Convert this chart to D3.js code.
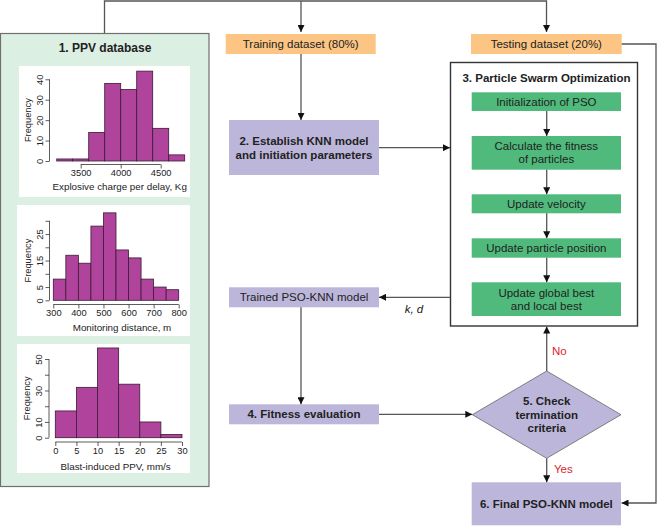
<!DOCTYPE html>
<html><head><meta charset="utf-8">
<script src="https://cdn.jsdelivr.net/npm/d3@7"></script>
<style>html,body{margin:0;padding:0;background:#fff}svg{display:block;font-family:"Liberation Sans",Arial,sans-serif}</style>
</head><body><svg id="c" width="657" height="526"></svg>
<script>
// ---- data ----
const chargeEdges = [3200,3400,3600,3800,4000,4200,4400,4600,4800];
const chargeCounts = [1,1,14,38,35,44,16,3];
const chargeXTicks = [3500,4000,4500];
const chargeYTicks = [0,10,20,30,40];
const chargeYLabels = [0,10,20,30,40];

const distEdges = [300,350,400,450,500,550,600,650,700,750,800];
const distCounts = [8,17,14,28,33,19,16,8,5,4];
const distXTicks = [300,400,500,600,700,800];
const distYTicks = [0,5,10,15,20,25,30];
const distYLabels = [0,5,15,25];

const ppvEdges = [0,5,10,15,20,25,30];
const ppvCounts = [17,32,57,34,10,2];
const ppvXTicks = [0,5,10,15,20,25,30];
const ppvYTicks = [0,10,20,30,40,50];
const ppvYLabels = [0,10,30,50];

const histTitles = ["Explosive charge per delay, Kg","Monitoring distance, m","Blast-induced PPV, mm/s"];

const svg = d3.select("#c");
const defs = svg.append("defs");
defs.append("marker").attr("id","ah").attr("viewBox","0 0 10 10").attr("refX",10).attr("refY",5)
  .attr("markerWidth",7).attr("markerHeight",7).attr("markerUnits","userSpaceOnUse").attr("orient","auto")
  .append("path").attr("d","M0,0L10,5L0,10z").attr("fill","#111");

const lineCol = "#555";
// top connector
svg.append("path").attr("d","M104.5,33 V1 H546.5 V32").attr("fill","none").attr("stroke",lineCol).attr("stroke-width",1.3).attr("marker-end","url(#ah)");
svg.append("path").attr("d","M301,1 V32").attr("fill","none").attr("stroke",lineCol).attr("stroke-width",1.3).attr("marker-end","url(#ah)");

// left panel
svg.append("rect").attr("x",0.5).attr("y",33.5).attr("width",208.5).attr("height",453).attr("fill","#dcefe3").attr("stroke","#6f6f6f").attr("stroke-width",1.2);
svg.append("text").attr("x",105).attr("y",52).attr("text-anchor","middle").attr("font-weight","bold").attr("font-size",12).attr("fill","#222").text("1. PPV database");

function hist(cfg){
  const g = svg.append("g");
  g.append("rect").attr("x",cfg.box[0]).attr("y",cfg.box[1]).attr("width",cfg.box[2]).attr("height",cfg.box[3]).attr("fill","#fff");
  const x = d3.scaleLinear().domain(cfg.xd).range(cfg.xr);
  const y = d3.scaleLinear().domain(cfg.yd).range(cfg.yr);
  const bins = cfg.counts.map((c,i)=>({x0:cfg.edges[i],x1:cfg.edges[i+1],c}));
  g.selectAll("rect.b").data(bins).join("rect").attr("class","b")
    .attr("x",d=>x(d.x0)).attr("width",d=>x(d.x1)-x(d.x0))
    .attr("y",d=>y(d.c)).attr("height",d=>y(0)-y(d.c))
    .attr("fill","#b0449d").attr("stroke","#3b1b35").attr("stroke-width",0.8);
  const xa = d3.axisBottom(x).tickValues(cfg.xt).tickSize(4).tickSizeOuter(0).tickPadding(1).tickFormat(d=>String(d));
  const gx = g.append("g").attr("transform",`translate(0,${cfg.xaxY})`).call(xa);
  gx.select(".domain").attr("d",`M${x(cfg.xt[0])},0H${x(cfg.xt[cfg.xt.length-1])}`);
  const ya = d3.axisLeft(y).tickValues(cfg.yt).tickSize(4).tickSizeOuter(0).tickPadding(2)
    .tickFormat(d=>cfg.yl.includes(d)?String(d):"");
  const gy = g.append("g").attr("transform",`translate(${cfg.yaxX},0)`).call(ya);
  gy.select(".domain").attr("d",`M0,${y(cfg.yt[0])}V${y(cfg.yt[cfg.yt.length-1])}`);
  [gx,gy].forEach(a=>{a.selectAll("path,line").attr("stroke","#333").attr("stroke-width",0.8);
    a.selectAll("text").attr("font-size",9.3).attr("fill","#222").attr("font-family","Liberation Sans, Arial, sans-serif");});
  gy.selectAll(".tick text").attr("transform","rotate(-90)").attr("text-anchor","middle").attr("x",0).attr("y",-7).attr("dy","0");
  g.append("text").attr("transform",`translate(${cfg.yaxX-19},${(y(cfg.yt[0])+y(cfg.yt[cfg.yt.length-1]))/2}) rotate(-90)`)
    .attr("text-anchor","middle").attr("font-size",9.3).attr("fill","#222").text("Frequency");
  g.append("text").attr("x",(cfg.xr[0]+cfg.xr[1])/2+ (cfg.titleDx||0)).attr("y",cfg.titleY).attr("text-anchor","middle").attr("font-size",9.8).attr("fill","#222").text(cfg.title);
}
hist({box:[19,66,171,131],edges:chargeEdges,counts:chargeCounts,xd:[3500,4500],xr:[80.7,160.7],yd:[0,40],yr:[161,79.3],
  xt:chargeXTicks,yt:chargeYTicks,yl:chargeYLabels,xaxY:164.5,yaxX:49.5,title:histTitles[0],titleY:190,titleDx:-1});
hist({box:[17,205,173,131],edges:distEdges,counts:distCounts,xd:[300,800],xr:[53.3,178.7],yd:[0,30],yr:[300.3,220.8],
  xt:distXTicks,yt:distYTicks,yl:distYLabels,xaxY:304.5,yaxX:49.5,title:histTitles[1],titleY:331,titleDx:6});
hist({box:[17,344,173,129],edges:ppvEdges,counts:ppvCounts,xd:[0,30],xr:[55.3,182],yd:[0,50],yr:[437.7,359],
  xt:ppvXTicks,yt:ppvYTicks,yl:ppvYLabels,xaxY:442,yaxX:49,title:histTitles[2],titleY:470,titleDx:-3});

// flowchart boxes
function box(x,y,w,h,fill,lines,opts={}){
  svg.append("rect").attr("x",x).attr("y",y).attr("width",w).attr("height",h).attr("fill",fill);
  const cy = y+h/2, lh = opts.lh||13.5;
  lines.forEach((t,i)=>{
    svg.append("text").attr("x",x+w/2).attr("y",cy+(i-(lines.length-1)/2)*lh).attr("dy","0.35em")
      .attr("text-anchor","middle").attr("font-size",opts.fs||11.5).attr("font-weight",opts.bold?"bold":"normal")
      .attr("fill","#222").text(t);
  });
}
const orange="#fcc584", lav="#bcb6db", green="#4fba7b";
box(225.7,34,150,20,orange,["Training dataset (80%)"]);
box(471,34,150.7,20,orange,["Testing dataset (20%)"]);
box(229,120,150,55,lav,["2. Establish KNN model","and initiation parameters"],{bold:true,lh:14});
box(229,287.3,150,20,lav,["Trained PSO-KNN model"]);
box(229,404.3,150,20,lav,["4. Fitness evaluation"],{bold:true});
box(471.7,482.3,149.3,43,lav,["6. Final PSO-KNN model"],{bold:true});

// PSO box
svg.append("rect").attr("x",450.5).attr("y",62.5).attr("width",187).attr("height",263.5).attr("fill","#fff").attr("stroke","#333").attr("stroke-width",1.4);
svg.append("text").attr("x",546.5).attr("y",81.5).attr("text-anchor","middle").attr("font-weight","bold").attr("font-size",11.5).attr("fill","#222").text("3. Particle Swarm Optimization");
box(471.7,92.3,149.3,18.7,green,["Initialization of PSO"]);
box(471.7,136,149.3,33.7,green,["Calculate the fitness","of particles"],{lh:13});
box(471.7,194.3,149.3,19,green,["Update velocity"]);
box(471.7,238.3,149.3,19.4,green,["Update particle position"]);
box(471.7,282.3,149.3,33.7,green,["Update global best","and local best"],{lh:13});

function arrow(d){svg.append("path").attr("d",d).attr("fill","none").attr("stroke",lineCol).attr("stroke-width",1.3).attr("marker-end","url(#ah)");}
arrow("M301,54 V120");
arrow("M379,147.7 H450");
arrow("M546.7,111 V136");
arrow("M546.7,169.7 V194.3");
arrow("M546.7,213.3 V238.3");
arrow("M546.7,257.7 V282.3");
arrow("M450,297.3 H379");
svg.append("text").attr("x",414).attr("y",313).attr("text-anchor","middle").attr("font-style","italic").attr("font-size",11.5).attr("fill","#222").text("k, d");
arrow("M301,307.3 V404.3");
arrow("M379,414.3 H472.3");
// diamond
const dm={l:472.3,r:621,t:371,b:458.3,cx:546.7,cy:414.7};
svg.append("path").attr("d",`M${dm.l},${dm.cy}L${dm.cx},${dm.t}L${dm.r},${dm.cy}L${dm.cx},${dm.b}Z`).attr("fill",lav).attr("stroke","#666").attr("stroke-width",0.8);
["5. Check","termination","criteria"].forEach((t,i)=>{
  svg.append("text").attr("x",dm.cx).attr("y",dm.cy+(i-1)*13.3).attr("dy","0.35em").attr("text-anchor","middle").attr("font-weight","bold").attr("font-size",11.5).attr("fill","#222").text(t);
});
arrow("M546.7,371 V326.5");
svg.append("text").attr("x",552).attr("y",355).attr("font-size",11.5).attr("fill","#e0242a").text("No");
arrow("M546.7,458.3 V482.3");
svg.append("text").attr("x",554).attr("y",473).attr("font-size",11.5).attr("fill","#e0242a").text("Yes");
arrow("M621.7,44 H656 V503 H621.5");
</script></body></html>
